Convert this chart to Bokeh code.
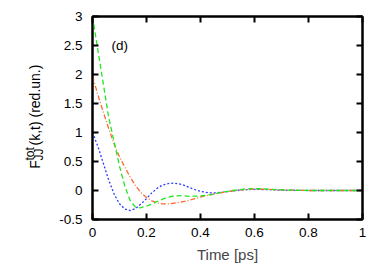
import math
from bokeh.plotting import figure
from bokeh.models import Range1d, LinearAxis, FixedTicker, Label
from bokeh.layouts import row
from bokeh.embed import file_html
from bokeh.resources import INLINE

# ---- data ----
t_blue = [0.0, 0.02, 0.04, 0.06, 0.08, 0.10, 0.12, 0.14, 0.16, 0.18, 0.20, 0.22, 0.24, 0.26,
          0.28, 0.30, 0.32, 0.34, 0.36, 0.38, 0.40, 0.43, 0.46, 0.50, 0.55, 0.60, 0.65,
          0.70, 0.80, 0.90, 1.0]
f_blue = [1.0, 0.76, 0.47, 0.18, -0.06, -0.23, -0.32, -0.345, -0.31, -0.23, -0.14, -0.04,
          0.04, 0.095, 0.12, 0.127, 0.115, 0.09, 0.05, 0.015, -0.015, -0.04, -0.04, -0.02,
          0.01, 0.02, 0.015, 0.005, 0.0, 0.0, 0.0]

t_orange = [0.0, 0.02, 0.04, 0.06, 0.08, 0.10, 0.12, 0.14, 0.16, 0.18, 0.20, 0.22, 0.24,
            0.26, 0.28, 0.30, 0.32, 0.35, 0.38, 0.41, 0.44, 0.47, 0.50, 0.55, 0.60, 0.65,
            0.70, 0.80, 0.90, 1.0]
f_orange = [1.97, 1.65, 1.35, 1.07, 0.80, 0.58, 0.40, 0.23, 0.08, -0.04, -0.12, -0.18,
            -0.215, -0.23, -0.23, -0.22, -0.205, -0.18, -0.14, -0.10, -0.07, -0.045, -0.02,
            0.01, 0.025, 0.02, 0.01, 0.0, 0.0, 0.0]

t_green = [0.0, 0.02, 0.04, 0.06, 0.08, 0.10, 0.12, 0.14, 0.16, 0.17, 0.18, 0.20, 0.22,
           0.24, 0.26, 0.28, 0.30, 0.33, 0.36, 0.40, 0.44, 0.48, 0.52, 0.56, 0.60, 0.65,
           0.70, 0.80, 0.90, 1.0]
f_green = [3.0, 2.42, 1.84, 1.26, 0.84, 0.42, 0.07, -0.18, -0.29, -0.30, -0.295, -0.27,
           -0.235, -0.19, -0.15, -0.115, -0.095, -0.09, -0.10, -0.095, -0.07, -0.03, 0.0,
           0.025, 0.035, 0.025, 0.01, 0.0, 0.0, 0.0]

x_ticks = [0, 0.2, 0.4, 0.6, 0.8, 1.0]
x_tick_labels = ["0", "0.2", "0.4", "0.6", "0.8", "1"]
y_ticks = [-0.5, 0, 0.5, 1, 1.5, 2, 2.5, 3]
y_tick_labels = ["-0.5", "0", "0.5", "1", "1.5", "2", "2.5", "3"]

FONT = "Liberation Sans"
W, H = 374, 267
LW = 46            # width of the strip holding the y-axis title
FB = 219           # frame bottom on the page (row aligns both frames)

p = figure(width=W - LW, height=H, output_backend="svg", toolbar_location=None,
           x_range=Range1d(0, 1), y_range=Range1d(-0.5, 3),
           min_border_left=92 - LW, min_border_right=12, min_border_top=16,
           min_border_bottom=48)
p.background_fill_color = "white"
p.border_fill_color = "white"
p.grid.visible = False
p.outline_line_color = "black"
p.outline_line_width = 2

def style_axis(ax, labels, ticks, show_labels):
    ax.ticker = FixedTicker(ticks=ticks)
    ax.major_label_overrides = {tk: lb for tk, lb in zip(ticks, labels)}
    ax.major_tick_in = 6
    ax.major_tick_out = 0
    ax.minor_tick_in = 0
    ax.minor_tick_out = 0
    ax.major_tick_line_width = 2
    ax.major_tick_line_color = "black"
    ax.axis_line_width = 2
    ax.axis_line_color = "black"
    ax.major_label_text_font = FONT
    ax.major_label_text_font_size = "13.5px"
    ax.major_label_text_color = "black" if show_labels else None

style_axis(p.xaxis[0], x_tick_labels, x_ticks, True)
style_axis(p.yaxis[0], y_tick_labels, y_ticks, True)
p.xaxis[0].major_label_standoff = 8
p.yaxis[0].major_label_standoff = 10
p.xaxis[0].axis_label = "Time [ps]"
p.xaxis[0].axis_label_text_font = FONT
p.xaxis[0].axis_label_text_font_style = "normal"
p.xaxis[0].axis_label_text_font_size = "15px"
p.xaxis[0].axis_label_standoff = 6

top = LinearAxis()
style_axis(top, x_tick_labels, x_ticks, False)
top.major_label_text_font_size = "0px"
p.add_layout(top, "above")
right = LinearAxis()
style_axis(right, y_tick_labels, y_ticks, False)
right.major_label_text_font_size = "0px"
p.add_layout(right, "right")

p.line(t_blue, f_blue, line_color="#2a3cff", line_width=1.3, line_dash="2 2")
p.line(t_orange, f_orange, line_color="#ff6a30", line_width=1.3, line_dash="5 2 1 2")
p.line(t_green, f_green, line_color="#22e622", line_width=1.3, line_dash="5 3")

p.add_layout(Label(x=0.07, y=2.5, text="(d)", text_font=FONT, text_font_size="13.5px",
                   text_baseline="middle", text_align="left", text_color="black"))

# strip with the rotated y-axis title (with super/subscript)
q = figure(width=LW, height=H, output_backend="svg", toolbar_location=None,
           x_range=Range1d(0, LW), y_range=Range1d(0, H),
           x_axis_location=None, y_axis_location=None,
           min_border_left=0, min_border_right=0, min_border_top=0, min_border_bottom=0)
q.grid.visible = False
q.outline_line_color = None
q.background_fill_color = "white"
q.border_fill_color = "white"

ang = math.pi / 2
def ylab(px, py, txt, size):
    q.add_layout(Label(x=px, y=FB - py, x_units="screen", y_units="screen", text=txt,
                       angle=ang, text_font=FONT, text_font_size=size,
                       text_baseline="alphabetic", text_align="left", text_color="black"))

ylab(34.7, 168.3, "F", "14px")
ylab(29.0, 160.0, "tot", "12px")
ylab(38.0, 160.0, "JJ", "12px")
ylab(34.7, 145.0, "(k,t) (red.un.)", "14px")

layout = row(q, p, spacing=0)
open("out.html", "w").write(file_html(layout, INLINE))
